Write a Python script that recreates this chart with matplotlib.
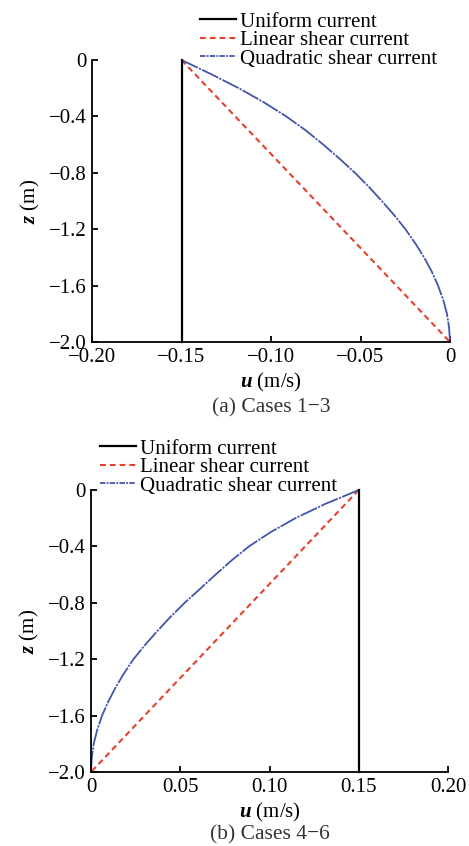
import matplotlib
matplotlib.use("Agg")
import matplotlib.pyplot as plt
from matplotlib.lines import Line2D

plt.rcParams['font.family'] = ['Liberation Serif', 'DejaVu Serif']
plt.rcParams['mathtext.fontset'] = 'custom'
plt.rcParams['mathtext.it'] = 'Liberation Serif:italic:bold'
plt.rcParams['mathtext.rm'] = 'Liberation Serif'

# Depth levels (m)
depth = [0.0, -0.1, -0.2, -0.3, -0.4, -0.5, -0.6, -0.7, -0.8, -0.9, -1.0,
         -1.1, -1.2, -1.3, -1.4, -1.5, -1.6, -1.7, -1.8, -1.9, -2.0]

# Cases 1-3 (negative current)
uniform_a = [-0.15] * len(depth)
linear_a = [-0.150, -0.1425, -0.135, -0.1275, -0.120, -0.1125, -0.105, -0.0975, -0.090, -0.0825, -0.075,
            -0.0675, -0.060, -0.0525, -0.045, -0.0375, -0.030, -0.0225, -0.015, -0.0075, 0.0]
quadratic_a = [-0.150, -0.1335, -0.1180, -0.1040, -0.0915, -0.0805, -0.0708, -0.0617, -0.0531, -0.0453, -0.0381,
               -0.0312, -0.0249, -0.0194, -0.0145, -0.0102, -0.0067, -0.0038, -0.0017, -0.0005, 0.0]

# Cases 4-6 (positive current)
uniform_b = [0.15] * len(depth)
linear_b = [0.150, 0.1425, 0.135, 0.1275, 0.120, 0.1125, 0.105, 0.0975, 0.090, 0.0825, 0.075,
            0.0675, 0.060, 0.0525, 0.045, 0.0375, 0.030, 0.0225, 0.015, 0.0075, 0.0]
quadratic_b = [0.150, 0.1310, 0.1145, 0.1005, 0.0885, 0.0787, 0.0698, 0.0612, 0.0525, 0.0445, 0.0372,
               0.0302, 0.0238, 0.0185, 0.0138, 0.0097, 0.0062, 0.0035, 0.0015, 0.0004, 0.0]

labels = ['Uniform current', 'Linear shear current', 'Quadratic shear current']

yticks = [0, -0.4, -0.8, -1.2, -1.6, -2.0]
yticklabels = ['0', '\u22120.4', '\u22120.8', '\u22121.2', '\u22121.6', '\u22122.0']
xticks_a = [-0.20, -0.15, -0.10, -0.05, 0]
xticklabels_a = ['\u22120.20', '\u22120.15', '\u22120.10', '\u22120.05', '0']
xticks_b = [0, 0.05, 0.10, 0.15, 0.20]
xticklabels_b = ['0', '0.05', '0.10', '0.15', '0.20']

c_uni = 'black'
c_lin = '#e5412e'
c_quad = '#4354ad'
ls_lin = (0, (2.8, 1.9))
ls_quad = (0, (10, 0.7, 1.2, 0.7))

W, H = 469, 846
fig = plt.figure(figsize=(W / 100, H / 100), dpi=100)

def px_axes(left, right, top, bottom):
    return fig.add_axes([left / W, 1 - bottom / H, (right - left) / W, (bottom - top) / H])

ax_a = px_axes(92, 450, 60, 342)
ax_b = px_axes(91, 448, 490, 772)

FS = 15

def draw(ax, uni, lin, quad, xt, xtl, xlim, caption, cap_y, leg_xy):
    ax.plot(uni, depth, color=c_uni, lw=1.6, zorder=3)
    ax.plot(lin, depth, color=c_lin, lw=1.5, ls=ls_lin, zorder=2)
    ax.plot(quad, depth, color=c_quad, lw=1.3, ls=ls_quad, zorder=2)
    ax.set_xlim(*xlim)
    ax.set_ylim(-2.0, 0)
    ax.set_xticks(xt)
    ax.set_xticklabels(xtl)
    ax.set_yticks(yticks)
    ax.set_yticklabels(yticklabels)
    for s in ['top', 'right']:
        ax.spines[s].set_visible(False)
    for s in ['left', 'bottom']:
        ax.spines[s].set_linewidth(1.3)
    ax.tick_params(axis='both', direction='in', length=4, width=1.3, labelsize=FS)
    ax.tick_params(axis='x', pad=4)
    ax.tick_params(axis='y', pad=4)
    ax.set_xlabel('$u$ (m/s)', fontsize=FS, labelpad=3)
    ax.set_ylabel('$z$ (m)', fontsize=FS, labelpad=5)
    ax.text(0.5, cap_y, caption, transform=ax.transAxes, ha='center', va='center',
            fontsize=FS + 0.5, color='#333333')
    handles = [
        Line2D([], [], color=c_uni, lw=1.6),
        Line2D([], [], color=c_lin, lw=1.5, ls=ls_lin),
        Line2D([], [], color=c_quad, lw=1.3, ls=(0, (3, 0.7, 1, 0.7))),
    ]
    ax.legend(handles, labels, loc='upper left', bbox_to_anchor=leg_xy,
              bbox_transform=fig.transFigure, frameon=False, fontsize=FS,
              handlelength=1.75, handletextpad=0.15, labelspacing=-0.05,
              borderpad=0, borderaxespad=0)
    for ln in ax.lines:
        ln.set_clip_on(False)

draw(ax_a, uniform_a, linear_a, quadratic_a, xticks_a, xticklabels_a, (-0.20, 0),
     '(a) Cases 1\u22123', -0.234, (200 / W, 1 - 12 / H))
draw(ax_b, uniform_b, linear_b, quadratic_b, xticks_b, xticklabels_b, (0, 0.20),
     '(b) Cases 4\u22126', -0.222, (100 / W, 1 - 439 / H))

fig.savefig('out.png', dpi=100)
